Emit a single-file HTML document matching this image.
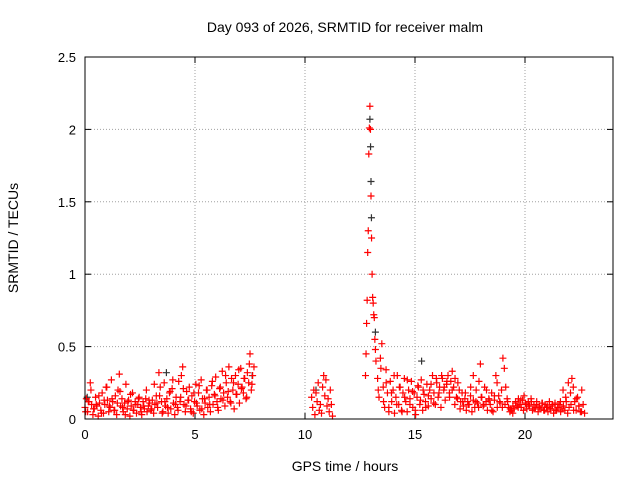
<!DOCTYPE html>
<html><head><meta charset="utf-8">
<style>
html,body{margin:0;padding:0;background:#fff;}
svg{display:block;font-family:"Liberation Sans",sans-serif;}
</style></head>
<body>
<svg id="chart" width="640" height="480">
<text x="345" y="32" font-size="14" text-anchor="middle">Day 093 of 2026, SRMTID for receiver malm</text>
<text x="345" y="471" font-size="14" text-anchor="middle">GPS time / hours</text>
<text transform="translate(18,238) rotate(-90)" font-size="14" text-anchor="middle">SRMTID / TECUs</text>
<g id="grid"></g>
<g id="ticks"></g>
<g id="marks"></g>
<rect x="85" y="57" width="528" height="362" fill="none" stroke="#000" stroke-width="1"/>
</svg>
<script>
const xTicks=[0,5,10,15,20];
const yTicks=[0,0.5,1,1.5,2,2.5];
const yTickLabels=["0","0.5","1","1.5","2","2.5"];
const segStarts=[0,0.03,10.3,12.75,13.3,13.33];
const segSteps=[0.06,0.12,0.05,0.025,0.064,0.12];
const segA=[0.08,0.14,0.05,0.12,0.25,0.1,0.03,0.07,0.15,0.09,0.02,0.11,0.06,0.18,0.04,0.1,0.22,0.13,0.05,0.08,
0.27,0.12,0.06,0.16,0.03,0.2,0.31,0.09,0.14,0.05,0.11,0.24,0.07,0.13,0.02,0.09,0.18,0.06,0.12,0.04,
0.1,0.15,0.08,0.03,0.12,0.07,0.14,0.05,0.09,0.11,0.06,0.13,0.04,0.1,0.16,0.08,0.32,0.22,0.12,0.05,
0.25,0.09,0.14,0.04,0.18,0.07,0.21,0.11,0.03,0.15,0.08,0.26,0.12,0.3,0.36,0.1,0.05,0.19,0.13,0.22,
0.07,0.16,0.04,0.12,0.24,0.09,0.18,0.06,0.27,0.14,0.03,0.11,0.2,0.08,0.15,0.05,0.23,0.1,0.17,0.29,
0.12,0.06,0.21,0.14,0.33,0.18,0.09,0.25,0.15,0.36,0.12,0.28,0.2,0.07,0.3,0.17,0.24,0.11,0.35,0.22,
0.18,0.28,0.14,0.32,0.25,0.45,0.2,0.3,0.36];
const segA2=[0.05,0.12,0.2,0.07,0.1,0.16,0.04,0.13,0.22,0.09,0.14,0.06,0.11,0.19,0.08,0.03,0.12,0.17,0.06,0.1,0.14,0.05,0.09,0.2,0.13,0.07,0.24,0.11,0.16,0.04,0.12,0.08,0.19,0.27,0.1,0.06,0.15,0.21,0.09,0.13,0.05,0.18,0.11,0.23,0.07,0.14,0.2,0.1,0.26,0.16,0.08,0.22,0.13,0.3,0.19,0.11,0.25,0.17,0.34,0.21,0.28,0.15,0.38,0.24];
const segB=[0.15,0.08,0.2,0.03,0.18,0.12,0.25,0.06,0.1,0.04,0.22,0.3,0.16,0.27,0.09,0.14,0.05,0.2,0.1,0.02];
const segSpike=[0.3,0.45,0.66,0.82,1.15,1.3,1.83,2.01,2.16,2.0,1.54,1.25,1.0,0.84,0.8,0.72,0.7,0.55,0.48,0.4];
const segC=[0.28,0.15,0.42,0.52,0.22,0.08,0.34,0.18,0.05,0.26,0.12,0.2,0.04,0.15,0.3,0.1,0.22,0.06,0.18,0.28,
0.12,0.05,0.2,0.14,0.26,0.08,0.18,0.03,0.15,0.22,0.1,0.27,0.06,0.17,0.12,0.24,0.09,0.2,0.14,0.3,
0.18,0.1,0.25,0.15,0.22,0.08,0.28,0.2,0.13,0.24,0.3,0.18,0.26,0.33,0.22,0.28,0.15,0.25,0.2,0.12,
0.18,0.09,0.14,0.06,0.12,0.1,0.16,0.05,0.13,0.08,0.2,0.11,0.26,0.38,0.15,0.09,0.22,0.12,0.06,0.14,
0.1,0.18,0.05,0.13,0.3,0.08,0.16,0.11,0.2,0.42,0.35,0.22,0.14,0.08,0.05,0.06,0.04,0.07,0.12,0.09,
0.14,0.1,0.08,0.13,0.16,0.11,0.07,0.12,0.09,0.14,0.06,0.1,0.08,0.12,0.05,0.09,0.07,0.11,0.06,0.1,
0.08,0.05,0.12,0.07,0.09,0.04,0.11,0.06,0.08,0.1,0.05,0.07,0.09,0.06,0.12,0.04,0.08,0.18,0.28,0.22,0.12,0.06,0.15,0.09,0.05,0.2,0.1,0.04];
const segC2=[0.2,0.35,0.12,0.25,0.08,0.18,0.3,0.1,0.22,0.05,0.15,0.27,0.1,0.19,0.06,0.23,0.13,0.2,0.08,0.16,0.24,0.11,0.28,0.18,0.3,0.22,0.26,0.15,0.2,0.1,0.14,0.07,0.12,0.18,0.1,0.22,0.3,0.12,0.08,0.15,0.1,0.2,0.13,0.06,0.16,0.25,0.12,0.08,0.1,0.12,0.07,0.09,0.11,0.08,0.13,0.06,0.1,0.09,0.12,0.07,0.1,0.08,0.11,0.06,0.09,0.07,0.1,0.06,0.08,0.12,0.2,0.15,0.25,0.1,0.06,0.14,0.09,0.05];
const segValues=[segA,segA2,segB,segSpike,segC,segC2];
const darkTimes=[0.1,3.7,7.6,10.5,12.95,12.98,13.0,13.02,13.2,15.3];
const darkValues=[0.15,0.32,0.3,0.2,2.07,1.88,1.64,1.39,0.6,0.4];

const X0=85,X1=613,Y0=419,Y1=57;
const sx=t=>X0+(t/24)*(X1-X0);
const sy=v=>Y0-(v/2.5)*(Y0-Y1);
const NS="http://www.w3.org/2000/svg";
function mk(tag,attrs,parent){const e=document.createElementNS(NS,tag);for(const k in attrs)e.setAttribute(k,attrs[k]);parent.appendChild(e);return e;}
const grid=document.getElementById('grid'),ticks=document.getElementById('ticks'),marks=document.getElementById('marks');
xTicks.forEach(t=>{
  const x=sx(t);
  if(t>0){const g=mk('line',{x1:x,x2:x,y1:Y0,y2:Y1,stroke:'#a0a0a0','stroke-dasharray':'1,2'},grid);
  
  }
  mk('line',{x1:x,x2:x,y1:Y0,y2:Y0-6,stroke:'#000'},ticks);
  mk('line',{x1:x,x2:x,y1:Y1,y2:Y1+6,stroke:'#000'},ticks);
  const l=mk('text',{x:x,y:Y0+20,'font-size':13,'text-anchor':'middle'},ticks);
  l.textContent=String(t);
  
  
});
yTicks.forEach((v,i)=>{
  const y=sy(v);
  if(v>0&&v<2.5){const g=mk('line',{x1:X0,x2:X1,y1:y,y2:y,stroke:'#a0a0a0','stroke-dasharray':'1,2'},grid);
  
  }
  mk('line',{x1:X0,x2:X0+6,y1:y,y2:y,stroke:'#000'},ticks);
  mk('line',{x1:X1,x2:X1-6,y1:y,y2:y,stroke:'#000'},ticks);
  const l=mk('text',{x:X0-9,y:y+5,'font-size':13,'text-anchor':'end'},ticks);
  l.textContent=yTickLabels[i];
  
  
});
function plus(t,v,color,name){
  const x=sx(t),y=sy(v);
  const p=mk('path',{d:`M${x-3.5},${y}h7M${x},${y-3.5}v7`,stroke:color,'stroke-width':1.2,fill:'none'},marks);
  
  
}
darkTimes.forEach((t,i)=>plus(t,darkValues[i],'#333','dark-point'));
segValues.forEach((arr,s)=>arr.forEach((v,i)=>plus(segStarts[s]+i*segSteps[s],v,'#ff0000','red-point')));
</script>
</body></html>
